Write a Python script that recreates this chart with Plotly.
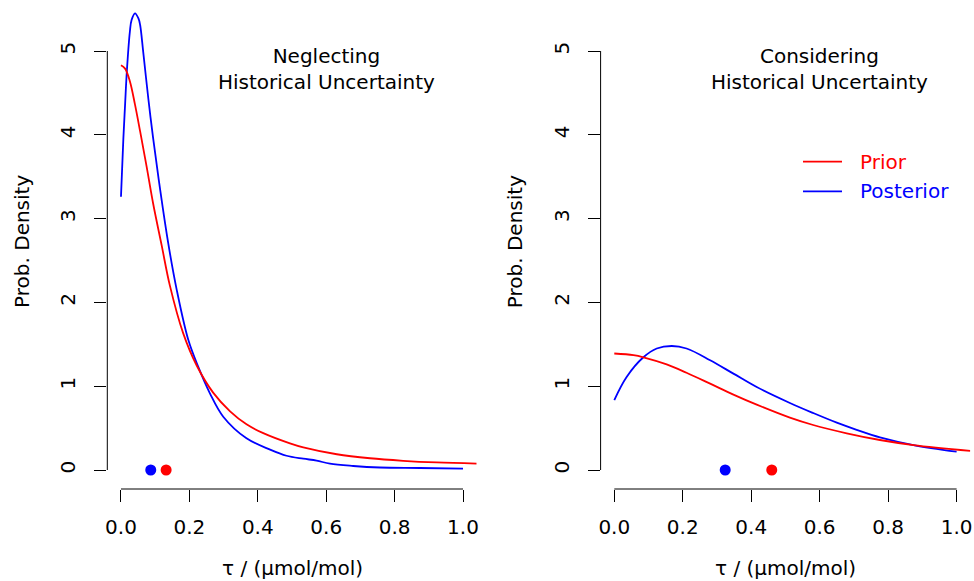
import plotly.graph_objects as go

# ---------------- data ----------------
# Left panel: Neglecting Historical Uncertainty
neg_prior_x = [0, 0.012, 0.026, 0.041, 0.056, 0.075, 0.094, 0.119, 0.143, 0.182, 0.221,
               0.27, 0.319, 0.367, 0.416, 0.494, 0.533, 0.631, 0.728, 0.825, 0.923, 1.04]
neg_prior_y = [4.83, 4.79, 4.64, 4.36, 4.04, 3.62, 3.18, 2.68, 2.20, 1.63, 1.25,
               0.92, 0.70, 0.545, 0.44, 0.318, 0.27, 0.188, 0.14, 0.11, 0.09, 0.076]
neg_post_x = [0, 0.007, 0.012, 0.017, 0.026, 0.031, 0.041, 0.051, 0.056, 0.065, 0.08, 0.094, 0.114,
              0.138, 0.163, 0.197, 0.226, 0.26, 0.299, 0.367, 0.436, 0.484, 0.533,
              0.572, 0.611, 0.679, 0.757, 0.874, 1.0]
neg_post_y = [3.26, 3.96, 4.36, 4.75, 5.23, 5.37, 5.45, 5.39, 5.31, 4.99, 4.43, 3.96, 3.36,
              2.71, 2.15, 1.55, 1.23, 0.915, 0.636, 0.378, 0.243, 0.17, 0.135,
              0.112, 0.075, 0.048, 0.03, 0.024, 0.016]
neg_prior_median = 0.132
neg_post_median = 0.087

# Right panel: Considering Historical Uncertainty
con_prior_x = [0, 0.056, 0.085, 0.153, 0.211, 0.28, 0.348, 0.416, 0.513, 0.581,
               0.679, 0.776, 0.874, 1.04]
con_prior_y = [1.39, 1.37, 1.345, 1.26, 1.16, 1.03, 0.90, 0.78, 0.625, 0.537,
               0.438, 0.358, 0.298, 0.229]
con_post_x = [0, 0.036, 0.085, 0.124, 0.168, 0.211, 0.28, 0.348, 0.416, 0.513,
              0.581, 0.65, 0.708, 0.776, 0.874, 1.0]
con_post_y = [0.835, 1.11, 1.345, 1.45, 1.48, 1.45, 1.31, 1.15, 0.99, 0.80,
              0.68, 0.565, 0.48, 0.39, 0.298, 0.218]
con_prior_median = 0.46
con_post_median = 0.324

x_ticks = [0, 0.2, 0.4, 0.6, 0.8, 1.0]
x_ticktext = ["0.0", "0.2", "0.4", "0.6", "0.8", "1.0"]
y_ticks = [0, 1, 2, 3, 4, 5]
y_ticktext = ["0", "1", "2", "3", "4", "5"]

titles = ["Neglecting<br>Historical Uncertainty", "Considering<br>Historical Uncertainty"]
xlabel = "τ / (μmol/mol)"
ylabel = "Prob. Density"
legend_labels = ["Prior", "Posterior"]

RED = "#FF0000"
BLUE = "#0000FF"
FONT = "DejaVu Sans"

W, H = 974, 581
B = 92
plot_h = H - B
px_per_unit = 83.8
y0_px = 470
y_range = [-(plot_h - y0_px) / px_per_unit, y0_px / px_per_unit]
x_range = [-0.04, 1.04]

fig = go.Figure()

panels = [
    (neg_prior_x, neg_prior_y, neg_post_x, neg_post_y, neg_prior_median, neg_post_median, "x", "y"),
    (con_prior_x, con_prior_y, con_post_x, con_post_y, con_prior_median, con_post_median, "x2", "y2"),
]
for i, (prx, pry, pox, poy, prm, pom, xa, ya) in enumerate(panels):
    fig.add_trace(go.Scatter(x=pox, y=poy, mode="lines", line=dict(color=BLUE, width=1.8, shape="spline", smoothing=1.0),
                             xaxis=xa, yaxis=ya, showlegend=False, hoverinfo="skip"))
    fig.add_trace(go.Scatter(x=prx, y=pry, mode="lines", line=dict(color=RED, width=1.8, shape="spline", smoothing=1.0),
                             xaxis=xa, yaxis=ya, showlegend=False, hoverinfo="skip"))
    fig.add_trace(go.Scatter(x=[pom], y=[0], mode="markers", marker=dict(color=BLUE, size=11),
                             xaxis=xa, yaxis=ya, showlegend=False, hoverinfo="skip"))
    fig.add_trace(go.Scatter(x=[prm], y=[0], mode="markers", marker=dict(color=RED, size=11),
                             xaxis=xa, yaxis=ya, showlegend=False, hoverinfo="skip"))

axis_common = dict(showgrid=False, zeroline=False, showline=False, ticks="outside", ticklen=12,
                   tickwidth=1, tickcolor="black", automargin=False,
                   tickfont=dict(family=FONT, size=20, color="black"))

dom1 = [107.3 / W, 476.7 / W]
dom2 = [600.6 / W, 970.3 / W]

fig.update_layout(
    width=W, height=H,
    margin=dict(l=0, r=0, t=0, b=B, pad=0, autoexpand=False),
    paper_bgcolor="white", plot_bgcolor="white",
    font=dict(family=FONT, size=20, color="black"),
    xaxis=dict(domain=dom1, range=x_range, tickvals=x_ticks, ticktext=x_ticktext, anchor="y",
               ticklabelstandoff=8, **axis_common),
    xaxis2=dict(domain=dom2, range=x_range, tickvals=x_ticks, ticktext=x_ticktext, anchor="y2",
                ticklabelstandoff=8, **axis_common),
    yaxis=dict(domain=[0, 1], range=y_range, tickvals=y_ticks, ticktext=y_ticktext, anchor="x", tickangle=-90,
               ticklabelstandoff=11, **axis_common),
    yaxis2=dict(domain=[0, 1], range=y_range, tickvals=y_ticks, ticktext=y_ticktext, anchor="x2", tickangle=-90,
                ticklabelstandoff=11, **axis_common),
    showlegend=False,
)

shapes = []
annotations = []
for xa, ya, title in [("x", "y", titles[0]), ("x2", "y2", titles[1])]:
    # R-style axis lines spanning only the tick range
    shapes.append(dict(type="line", xref=xa, yref="paper", x0=x_ticks[0], x1=x_ticks[-1], y0=0, y1=0,
                       line=dict(color="black", width=1)))
    shapes.append(dict(type="line", xref=f"{xa} domain", yref=ya, x0=0, x1=0, y0=y_ticks[0], y1=y_ticks[-1],
                       line=dict(color="black", width=1)))
    annotations.append(dict(text=title, xref=xa, yref=ya, x=0.6, y=4.79, xanchor="center", yanchor="middle",
                            showarrow=False, font=dict(family=FONT, size=20, color="black")))
    annotations.append(dict(text=xlabel, xref=f"{xa} domain", yref="paper", x=0.5, y=0, yanchor="middle",
                            yshift=-79, showarrow=False, font=dict(family=FONT, size=20, color="black")))
    annotations.append(dict(text=ylabel, xref=f"{xa} domain", yref="paper", x=0, y=(489 - 241.6) / plot_h,
                            xanchor="center", yanchor="middle", xshift=-86, textangle=-90,
                            showarrow=False, font=dict(family=FONT, size=20, color="black")))

# legend (right panel), R-style: short line key + coloured label
for label, color, py in [(legend_labels[0], RED, 161.7), (legend_labels[1], BLUE, 191.3)]:
    yp = (plot_h - py) / plot_h
    shapes.append(dict(type="line", xref="paper", yref="paper", x0=803 / W, x1=842 / W, y0=yp, y1=yp,
                       line=dict(color=color, width=1.8)))
    annotations.append(dict(text=label, xref="paper", yref="paper", x=858 / W, y=yp, xanchor="left",
                            yanchor="middle", showarrow=False, font=dict(family=FONT, size=20, color=color)))

fig.update_layout(shapes=shapes, annotations=annotations)

fig.write_html("out.html")
